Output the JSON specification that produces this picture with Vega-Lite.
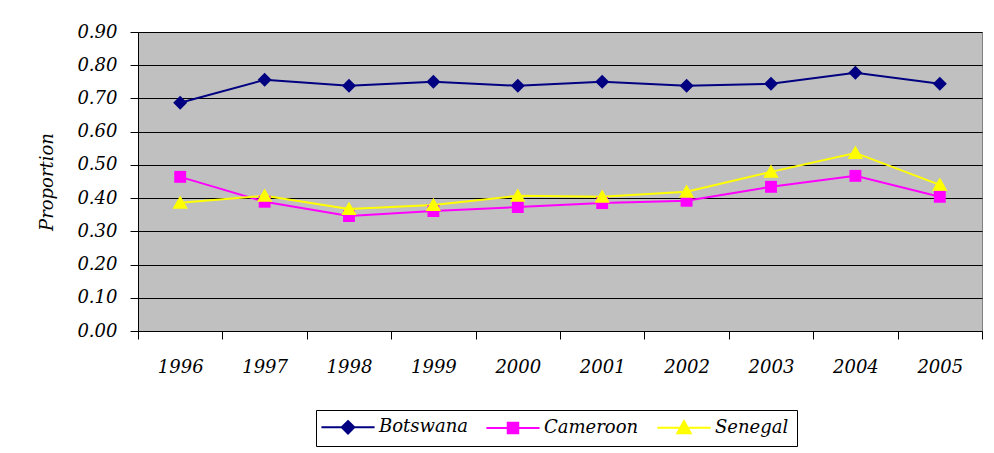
{
  "$schema": "https://vega.github.io/schema/vega-lite/v6.json",
  "autosize": "none",
  "width": 844,
  "height": 299,
  "padding": {"left": 138, "top": 32, "right": 12, "bottom": 122},
  "background": "white",
  "config": {
    "view": {"fill": "#C0C0C0", "stroke": "#808080", "strokeWidth": 1},
    "font": "DejaVu Serif",
    "axis": {
      "labelFont": "DejaVu Serif", "labelFontStyle": "italic", "labelFontSize": 18, "labelColor": "#000",
      "titleFont": "DejaVu Serif", "titleFontStyle": "italic", "titleFontSize": 18, "titleFontWeight": "normal", "titleColor": "#000",
      "domainColor": "#000", "tickColor": "#000", "tickSize": 8, "tickWidth": 1, "domainWidth": 1
    },
    "legend": {
      "labelFont": "DejaVu Serif", "labelFontStyle": "italic", "labelFontSize": 18, "labelColor": "#000"
    }
  },
  "data": {
    "values": [
      {"year": "1996", "country": "Botswana", "value": 0.687},
      {"year": "1997", "country": "Botswana", "value": 0.756},
      {"year": "1998", "country": "Botswana", "value": 0.738},
      {"year": "1999", "country": "Botswana", "value": 0.750},
      {"year": "2000", "country": "Botswana", "value": 0.738},
      {"year": "2001", "country": "Botswana", "value": 0.750},
      {"year": "2002", "country": "Botswana", "value": 0.738},
      {"year": "2003", "country": "Botswana", "value": 0.744},
      {"year": "2004", "country": "Botswana", "value": 0.777},
      {"year": "2005", "country": "Botswana", "value": 0.744},
      {"year": "1996", "country": "Cameroon", "value": 0.464},
      {"year": "1997", "country": "Cameroon", "value": 0.389},
      {"year": "1998", "country": "Cameroon", "value": 0.346},
      {"year": "1999", "country": "Cameroon", "value": 0.361},
      {"year": "2000", "country": "Cameroon", "value": 0.373},
      {"year": "2001", "country": "Cameroon", "value": 0.385},
      {"year": "2002", "country": "Cameroon", "value": 0.392},
      {"year": "2003", "country": "Cameroon", "value": 0.434},
      {"year": "2004", "country": "Cameroon", "value": 0.467},
      {"year": "2005", "country": "Cameroon", "value": 0.404},
      {"year": "1996", "country": "Senegal", "value": 0.386},
      {"year": "1997", "country": "Senegal", "value": 0.407},
      {"year": "1998", "country": "Senegal", "value": 0.367},
      {"year": "1999", "country": "Senegal", "value": 0.379},
      {"year": "2000", "country": "Senegal", "value": 0.407},
      {"year": "2001", "country": "Senegal", "value": 0.404},
      {"year": "2002", "country": "Senegal", "value": 0.419},
      {"year": "2003", "country": "Senegal", "value": 0.479},
      {"year": "2004", "country": "Senegal", "value": 0.536},
      {"year": "2005", "country": "Senegal", "value": 0.440}
    ]
  },
  "encoding": {
    "x": {
      "field": "year", "type": "ordinal",
      "scale": {"type": "band", "paddingInner": 0, "paddingOuter": 0},
      "axis": {"title": null, "labelAngle": 0, "tickBand": "extent", "labelPadding": 19, "grid": false}
    },
    "y": {
      "field": "value", "type": "quantitative",
      "scale": {"domain": [0, 0.9], "nice": false, "zero": true},
      "axis": {
        "title": "Proportion", "format": ".2f",
        "values": [0, 0.1, 0.2, 0.3, 0.4, 0.5, 0.6, 0.7, 0.8, 0.9],
        "grid": true, "gridColor": "#000", "gridWidth": 1, "gridOpacity": 1,
        "labelPadding": 13, "titlePadding": 20
      }
    },
    "color": {
      "field": "country", "type": "nominal",
      "scale": {"domain": ["Botswana", "Cameroon", "Senegal"], "range": ["#000080", "#FF00FF", "#FFFF00"]},
      "legend": {
        "title": null, "orient": "none", "direction": "horizontal",
        "legendX": 178, "legendY": 378,
        "strokeColor": "#000", "padding": 8, "fillColor": "#fff",
        "symbolSize": 196, "symbolStrokeWidth": 2,
        "symbolOffset": 15, "labelOffset": 22, "columnPadding": 14,
        "encode": {
          "symbols": {
            "update": {
              "shape": {"signal": "datum.value === 'Botswana' ? 'M-3.8,0L3.8,0M0,-0.9L0.9,0L0,0.9L-0.9,0Z' : datum.value === 'Cameroon' ? 'M-3.8,0L3.8,0M-0.75,-0.75L0.75,-0.75L0.75,0.75L-0.75,0.75Z' : 'M-3.8,0L3.8,0M0,-0.95L0.95,0.8L-0.95,0.8Z'"},
              "stroke": {"signal": "scale('color', datum.value)"},
              "fill": {"signal": "scale('color', datum.value)"},
              "strokeWidth": {"value": 2},
              "opacity": {"value": 1}
            }
          }
        }
      }
    }
  },
  "layer": [
    {"mark": {"type": "line", "strokeWidth": 2}},
    {
      "transform": [{"filter": "datum.country === 'Botswana'"}],
      "mark": {"type": "point", "filled": true, "opacity": 1, "size": 196, "shape": "M0,-1L1,0L0,1L-1,0Z"}
    },
    {
      "transform": [{"filter": "datum.country === 'Cameroon'"}],
      "mark": {"type": "point", "filled": true, "opacity": 1, "size": 196, "shape": "M-0.85,-0.85L0.85,-0.85L0.85,0.85L-0.85,0.85Z"}
    },
    {
      "transform": [{"filter": "datum.country === 'Senegal'"}],
      "mark": {"type": "point", "filled": true, "opacity": 1, "size": 196, "shape": "M0,-1.05L1.1,0.85L-1.1,0.85Z"}
    }
  ]
}
